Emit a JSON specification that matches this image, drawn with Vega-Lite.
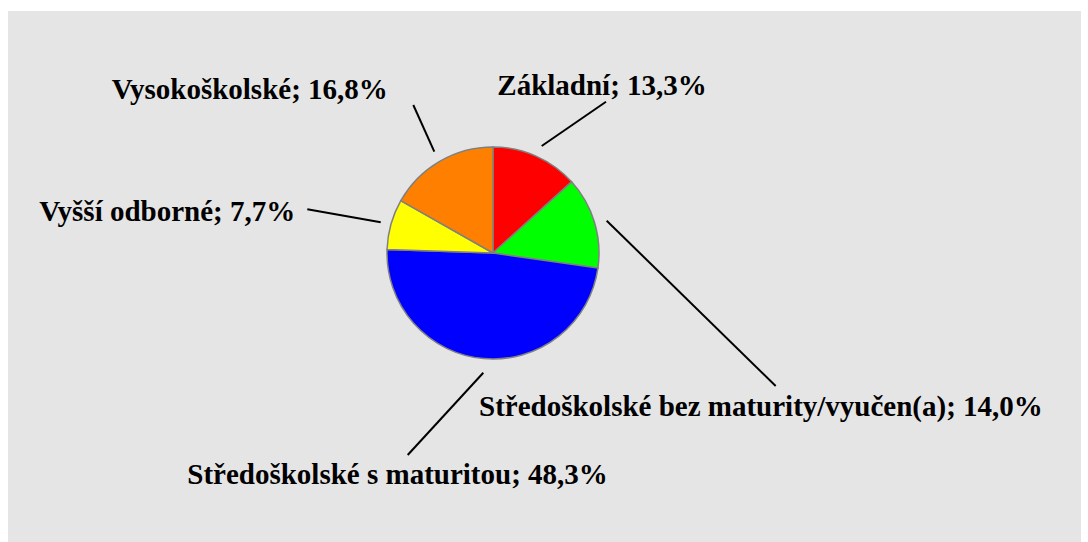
{
  "$schema": "https://vega.github.io/schema/vega-lite/v6.json",
  "autosize": {"type": "fit", "contains": "padding"},
  "width": 1088,
  "height": 542,
  "padding": {"left": 8, "top": 11, "right": 7, "bottom": 0},
  "background": "white",
  "config": {"view": {"fill": "#e5e5e5", "stroke": null}},
  "datasets": {
    "shares": [
      {"idx": 1, "category": "Základní", "value": 13.3},
      {"idx": 2, "category": "Středoškolské bez maturity/vyučen(a)", "value": 14.0},
      {"idx": 3, "category": "Středoškolské s maturitou", "value": 48.3},
      {"idx": 4, "category": "Vyšší odborné", "value": 7.7},
      {"idx": 5, "category": "Vysokoškolské", "value": 16.8}
    ],
    "annotations": [
      {"label": "Základní; 13,3%", "tx": 4.3, "ty": 158, "ax": 113, "ay": 151.3, "bx": 48.7, "by": 107},
      {"label": "Středoškolské bez maturity/vyučen(a); 14,0%", "tx": -14, "ty": -163, "ax": 113.7, "ay": 32.3, "bx": 282.7, "by": -133},
      {"label": "Středoškolské s maturitou; 48,3%", "tx": -305.7, "ty": -231, "ax": -9.7, "ay": -119.7, "bx": -85.3, "by": -202},
      {"label": "Vyšší odborné; 7,7%", "tx": -453.7, "ty": 32.3, "ax": -185.7, "ay": 43.7, "bx": -112.3, "by": 30.7},
      {"label": "Vysokoškolské; 16,8%", "tx": -381.3, "ty": 153.7, "ax": -79.7, "ay": 148, "bx": -58.7, "by": 101.3}
    ]
  },
  "layer": [
    {
      "data": {"name": "shares"},
      "mark": {"type": "arc", "outerRadius": 106, "stroke": "#808080", "strokeWidth": 1.5},
      "encoding": {
        "theta": {"field": "value", "type": "quantitative", "stack": true},
        "order": {"field": "idx", "type": "quantitative"},
        "color": {
          "field": "category",
          "type": "nominal",
          "legend": null,
          "scale": {
            "domain": ["Základní", "Středoškolské bez maturity/vyučen(a)", "Středoškolské s maturitou", "Vyšší odborné", "Vysokoškolské"],
            "range": ["#ff0000", "#00ff00", "#0000ff", "#ffff00", "#ff8000"]
          }
        },
        "x": {"datum": 0, "type": "quantitative", "scale": {"domain": [-485, 588], "nice": false, "zero": false}, "axis": null},
        "y": {"datum": 0, "type": "quantitative", "scale": {"domain": [-289, 242], "nice": false, "zero": false}, "axis": null}
      }
    },
    {
      "data": {"name": "annotations"},
      "mark": {"type": "rule", "color": "black", "strokeWidth": 2},
      "encoding": {
        "x": {"field": "ax", "type": "quantitative", "scale": {"domain": [-485, 588], "nice": false, "zero": false}, "axis": null},
        "y": {"field": "ay", "type": "quantitative", "scale": {"domain": [-289, 242], "nice": false, "zero": false}, "axis": null},
        "x2": {"field": "bx"},
        "y2": {"field": "by"}
      }
    },
    {
      "data": {"name": "annotations"},
      "mark": {"type": "text", "font": "Liberation Serif, Times New Roman, DejaVu Serif, serif", "fontWeight": "bold", "fontSize": 29, "align": "left", "baseline": "alphabetic", "color": "black"},
      "encoding": {
        "x": {"field": "tx", "type": "quantitative", "scale": {"domain": [-485, 588], "nice": false, "zero": false}, "axis": null},
        "y": {"field": "ty", "type": "quantitative", "scale": {"domain": [-289, 242], "nice": false, "zero": false}, "axis": null},
        "text": {"field": "label", "type": "nominal"}
      }
    }
  ]
}
